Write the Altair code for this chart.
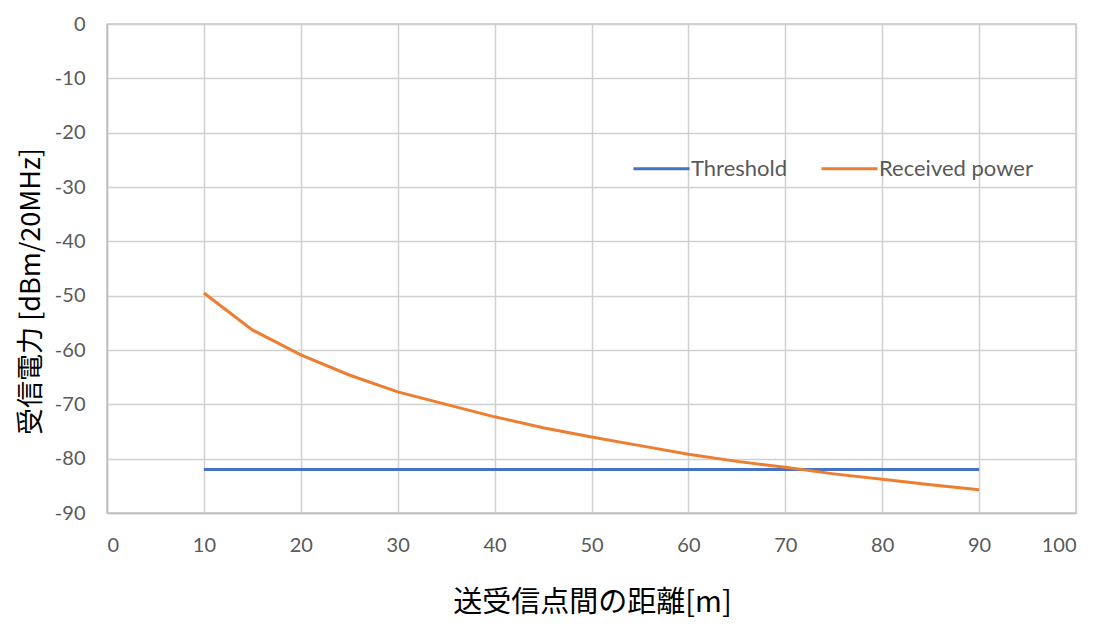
import altair as alt
import pandas as pd

distance = [10, 15, 20, 25, 30, 35, 40, 45, 50, 55, 60, 65, 70, 75, 80, 85, 90]
received = [-49.5, -56.3, -60.9, -64.6, -67.7, -70.0, -72.3, -74.3, -76.0,
            -77.6, -79.2, -80.5, -81.6, -82.8, -83.8, -84.8, -85.7]
threshold = [-82] * len(distance)
series = ["Threshold", "Received power"]
colors = ["#4472C4", "#ED7D31"]

rows = []
for d, t in zip(distance, threshold):
    rows.append({"d": d, "p": t, "s": series[0]})
for d, r in zip(distance, received):
    rows.append({"d": d, "p": r, "s": series[1]})
df = pd.DataFrame(rows)

tick_font = "Lato"
chart = alt.Chart(df).mark_line(strokeWidth=3).encode(
    x=alt.X("d:Q", scale=alt.Scale(domain=[0, 100], nice=False),
            axis=alt.Axis(values=list(range(0, 101, 10)), title="送受信点間の距離[m]",
                          labelExpr="toString(datum.value)",
                          titleFont="Noto Sans CJK JP", titleFontSize=29, titleFontWeight="normal",
                          titleColor="#000000", titleX=485, titleY=89,
                          titleAlign="center", titleBaseline="middle",
                          labelFont=tick_font, labelFontSize=20, labelColor="#595959",
                          labelPadding=22, tickSize=0, grid=True, gridColor="#d0d0d0",
                          gridWidth=1.5, domainColor="#bfbfbf", domainWidth=1.5)),
    y=alt.Y("p:Q", scale=alt.Scale(domain=[-90, 0], nice=False),
            axis=alt.Axis(values=list(range(-90, 1, 10)), title="受信電力 [dBm/20MHz]",
                          labelExpr="toString(datum.value)",
                          titleFont="Noto Sans CJK JP", titleFontSize=27, titleFontWeight="normal",
                          titleColor="#000000", titleX=-76, titleY=267, titleAngle=270,
                          titleAlign="center", titleBaseline="middle",
                          labelFont=tick_font, labelFontSize=20, labelColor="#595959",
                          labelPadding=22, tickSize=0, grid=True, gridColor="#d0d0d0",
                          gridWidth=1.5, domainColor="#bfbfbf", domainWidth=1.5)),
    color=alt.Color("s:N", scale=alt.Scale(domain=series, range=colors), sort=series,
                    legend=alt.Legend(title=None, orient="none", legendX=525, legendY=115,
                                      direction="horizontal", symbolType="stroke",
                                      symbolSize=3136, symbolStrokeWidth=3,
                                      labelFont=tick_font, labelFontSize=22,
                                      labelColor="#595959", labelOffset=0,
                                      columnPadding=27)),
).properties(
    width=969, height=489,
    autosize=alt.AutoSizeParams(type="none"),
    padding={"left": 99, "top": 16, "right": 14, "bottom": 105},
).configure_view(stroke="#c8c8c8", strokeWidth=1.5)

chart.save("out.html", embed_options={"renderer": "svg", "actions": False})
